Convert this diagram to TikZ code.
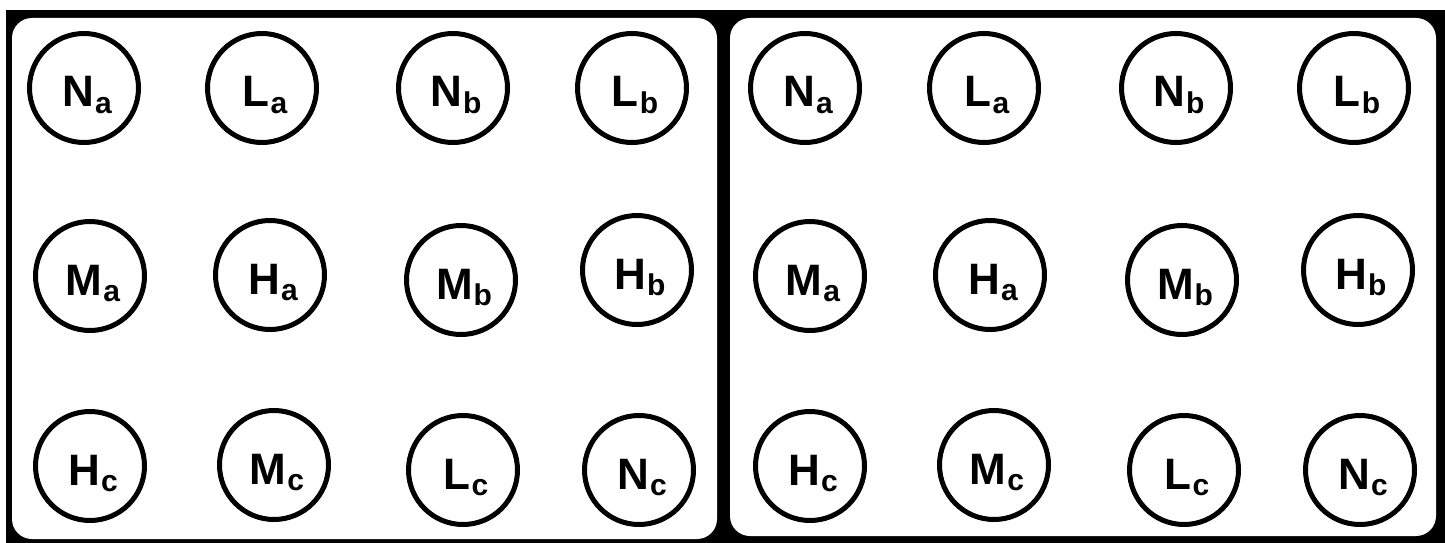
\documentclass[tikz,border=0pt]{standalone}
\usepackage{fontspec}
\setmainfont{Liberation Sans}
\newcommand{\lab}[2]{\raisebox{-19pt}[0pt][0pt]{\hspace*{6pt}\fontsize{44}{44}\selectfont\bfseries #1\hspace{1pt}\raisebox{-6pt}{\fontsize{30}{30}\selectfont #2}}}
\begin{document}
\begin{tikzpicture}[x=1pt,y=-1pt,
  ball/.style={circle,draw=black,fill=white,line width=5pt,minimum size=109pt,inner sep=0pt},
  panel/.style={fill=white,rounded corners=20pt}]
\useasboundingbox (0,0) rectangle (1445,543);
\fill[white] (0,0) rectangle (1445,543);
\fill[black] (6,10) rectangle (1445,543);
\fill[panel] (12,18) rectangle (717,539);
\fill[panel] (730,18) rectangle (1436,536);
% left panel
\node[ball] (lNa) at (84,88) {\lab{N}{a}};
\node[ball] (lLa) at (262,88) {\lab{L}{a}};
\node[ball] (lNb) at (453,88) {\lab{N}{b}};
\node[ball] (lLb) at (632,88) {\lab{L}{b}};
\node[ball] (lMa) at (90,276) {\lab{M}{a}};
\node[ball] (lHa) at (270,275) {\lab{H}{a}};
\node[ball] (lMb) at (461,280) {\lab{M}{b}};
\node[ball] (lHb) at (637,270) {\lab{H}{b}};
\node[ball] (lHc) at (90,466) {\lab{H}{c}};
\node[ball] (lMc) at (274,465) {\lab{M}{c}};
\node[ball] (lLc) at (463,470) {\lab{L}{c}};
\node[ball] (lNc) at (639,470) {\lab{N}{c}};
% right panel
\node[ball] (rNa) at (805,88) {\lab{N}{a}};
\node[ball] (rLa) at (984,88) {\lab{L}{a}};
\node[ball] (rNb) at (1176,88) {\lab{N}{b}};
\node[ball] (rLb) at (1354,88) {\lab{L}{b}};
\node[ball] (rMa) at (810,276) {\lab{M}{a}};
\node[ball] (rHa) at (990,275) {\lab{H}{a}};
\node[ball] (rMb) at (1182,280) {\lab{M}{b}};
\node[ball] (rHb) at (1358,270) {\lab{H}{b}};
\node[ball] (rHc) at (810,466) {\lab{H}{c}};
\node[ball] (rMc) at (994,465) {\lab{M}{c}};
\node[ball] (rLc) at (1184,470) {\lab{L}{c}};
\node[ball] (rNc) at (1360,470) {\lab{N}{c}};
\end{tikzpicture}
\end{document}
